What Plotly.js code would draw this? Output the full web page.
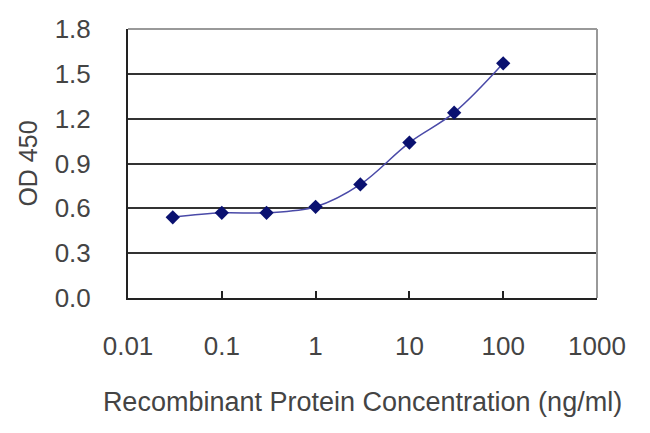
<!DOCTYPE html>
<html>
<head>
<meta charset="utf-8">
<script src="https://cdn.plot.ly/plotly-3.0.1.min.js"></script>
<style>html,body{margin:0;padding:0;background:#fff;}#chart{width:650px;height:433px;}</style>
</head>
<body>
<div id="chart"></div>
<script>
const concentration = [0.03, 0.1, 0.3, 1, 3, 10, 30, 100];
const od450 = [0.54, 0.57, 0.57, 0.61, 0.76, 1.04, 1.24, 1.57];
const yTicks = [0, 0.3, 0.6, 0.9, 1.2, 1.5, 1.8];
const yTickLabels = ["0.0", "0.3", "0.6", "0.9", "1.2", "1.5", "1.8"];
const xTicks = [0.01, 0.1, 1, 10, 100, 1000];
const xTickLabels = ["0.01", "0.1", "1", "10", "100", "1000"];

const trace = {
  x: concentration, y: od450, type: 'scatter', mode: 'lines+markers',
  line: {shape: 'spline', color: '#4a4aa8', width: 1.5},
  marker: {symbol: 'diamond', size: 11, color: '#0a1170'},
  showlegend: false, hoverinfo: 'none'
};

const layout = {
  width: 650, height: 433,
  margin: {l: 128, r: 53, t: 29, b: 135},
  paper_bgcolor: '#ffffff', plot_bgcolor: '#ffffff',
  font: {family: 'Liberation Sans, Arial, sans-serif', color: '#444444'},
  xaxis: {
    type: 'log', range: [-2, 3],
    tickvals: xTicks, ticktext: xTickLabels,
    ticks: 'inside', ticklen: 7, tickwidth: 2, tickcolor: '#222',
    showgrid: false, zeroline: false,
    showline: true, linecolor: '#222', linewidth: 2, mirror: false,
    tickfont: {size: 26, color: '#444'},
    ticklabelstandoff: 24,
    title: {text: 'Recombinant Protein Concentration (ng/ml)', font: {size: 27, color: '#444'}, standoff: 32}
  },
  yaxis: {
    range: [0, 1.8],
    tickvals: yTicks, ticktext: yTickLabels,
    ticks: '', showgrid: true, gridcolor: '#333333', gridwidth: 2,
    zeroline: false, showline: true, linecolor: '#222', linewidth: 2,
    tickfont: {size: 26, color: '#444'},
    ticklabelstandoff: 30,
    title: {text: 'OD 450', font: {size: 25, color: '#444'}, standoff: 10}
  },
  shapes: [
    {type: 'line', xref: 'paper', yref: 'paper', x0: 0, x1: 1, y0: 1, y1: 1, line: {color: '#999', width: 2}},
    {type: 'line', xref: 'paper', yref: 'paper', x0: 1, x1: 1, y0: 0, y1: 1, line: {color: '#999', width: 2}}
  ]
};

Plotly.newPlot('chart', [trace], layout, {staticPlot: true});
</script>
</body>
</html>
